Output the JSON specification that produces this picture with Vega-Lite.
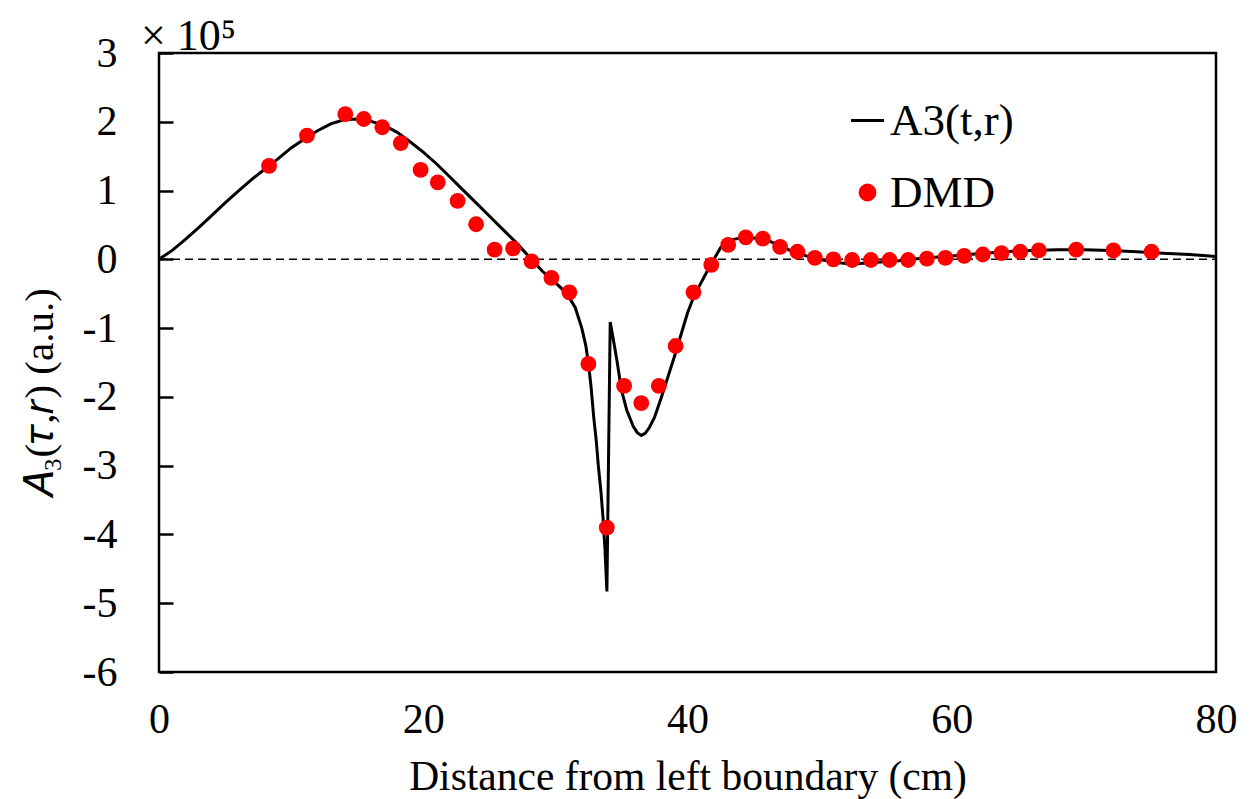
{
  "$schema": "https://vega.github.io/schema/vega-lite/v6.json",
  "width": 1057,
  "height": 619,
  "autosize": {"type": "none"},
  "padding": {"left": 159, "top": 53, "right": 39, "bottom": 127},
  "background": "white",
  "config": {
    "font": "Liberation Serif",
    "view": {"stroke": "black", "strokeWidth": 2.5}
  },
  "title": {
    "text": "× 10⁵",
    "anchor": "start",
    "frame": "group",
    "dx": -18,
    "dy": 36,
    "offset": 9,
    "fontSize": 44,
    "fontWeight": "normal",
    "font": "Liberation Serif",
    "color": "black"
  },
  "datasets": {
    "zero": [{"x": 0, "y": 0}, {"x": 80, "y": 0}],
    "curve": [
      {"x": 0, "y": 0}, {"x": 1, "y": 0.13}, {"x": 2, "y": 0.29}, {"x": 3, "y": 0.46},
      {"x": 4, "y": 0.64}, {"x": 5, "y": 0.82}, {"x": 6, "y": 0.99}, {"x": 7, "y": 1.16},
      {"x": 8, "y": 1.31}, {"x": 9, "y": 1.46}, {"x": 10, "y": 1.62}, {"x": 11, "y": 1.75},
      {"x": 12, "y": 1.87}, {"x": 13, "y": 1.97}, {"x": 14, "y": 2.03}, {"x": 15, "y": 2.04},
      {"x": 16, "y": 2.01}, {"x": 17, "y": 1.95}, {"x": 18, "y": 1.85}, {"x": 19, "y": 1.71},
      {"x": 20, "y": 1.56}, {"x": 21, "y": 1.39}, {"x": 22, "y": 1.2}, {"x": 23, "y": 1.01},
      {"x": 24, "y": 0.82}, {"x": 25, "y": 0.63}, {"x": 26, "y": 0.44}, {"x": 27, "y": 0.25},
      {"x": 28, "y": 0.04}, {"x": 29, "y": -0.17}, {"x": 30, "y": -0.34}, {"x": 30.5, "y": -0.43},
      {"x": 31, "y": -0.54}, {"x": 31.5, "y": -0.7}, {"x": 32, "y": -1.0}, {"x": 32.3, "y": -1.25},
      {"x": 32.5, "y": -1.51}, {"x": 32.7, "y": -1.85}, {"x": 32.9, "y": -2.29}, {"x": 33.1, "y": -2.65},
      {"x": 33.25, "y": -3.0}, {"x": 33.45, "y": -3.38}, {"x": 33.6, "y": -3.74}, {"x": 33.75, "y": -4.2},
      {"x": 33.9, "y": -4.83},
      {"x": 34.15, "y": -0.91}, {"x": 34.4, "y": -1.18}, {"x": 34.65, "y": -1.46}, {"x": 35, "y": -1.9},
      {"x": 35.4, "y": -2.19}, {"x": 35.9, "y": -2.43}, {"x": 36.2, "y": -2.52}, {"x": 36.5, "y": -2.56},
      {"x": 36.8, "y": -2.53}, {"x": 37.1, "y": -2.45},
      {"x": 37.5, "y": -2.3}, {"x": 38, "y": -2.02}, {"x": 38.5, "y": -1.72}, {"x": 39, "y": -1.42},
      {"x": 39.5, "y": -1.1}, {"x": 40, "y": -0.78}, {"x": 40.5, "y": -0.53}, {"x": 41, "y": -0.35},
      {"x": 41.5, "y": -0.17}, {"x": 42, "y": 0.0}, {"x": 42.5, "y": 0.17}, {"x": 43, "y": 0.25},
      {"x": 43.5, "y": 0.29}, {"x": 44, "y": 0.31}, {"x": 45, "y": 0.31}, {"x": 46, "y": 0.28},
      {"x": 47, "y": 0.2}, {"x": 48, "y": 0.11}, {"x": 49, "y": 0.05}, {"x": 50, "y": 0.0},
      {"x": 51, "y": -0.04}, {"x": 52, "y": -0.06}, {"x": 53, "y": -0.06}, {"x": 54, "y": -0.05},
      {"x": 55, "y": -0.03}, {"x": 56, "y": -0.02}, {"x": 57, "y": 0.0}, {"x": 58, "y": 0.02},
      {"x": 60, "y": 0.05}, {"x": 62, "y": 0.08}, {"x": 64, "y": 0.11}, {"x": 66, "y": 0.13},
      {"x": 68, "y": 0.14}, {"x": 70, "y": 0.14}, {"x": 72, "y": 0.13}, {"x": 74, "y": 0.11},
      {"x": 76, "y": 0.09}, {"x": 78, "y": 0.07}, {"x": 80, "y": 0.04}
    ],
    "dmd": [
      {"x": 8.33, "y": 1.36}, {"x": 11.2, "y": 1.8}, {"x": 14.1, "y": 2.11}, {"x": 15.5, "y": 2.04},
      {"x": 16.9, "y": 1.92}, {"x": 18.3, "y": 1.69}, {"x": 19.8, "y": 1.3}, {"x": 21.1, "y": 1.12},
      {"x": 22.6, "y": 0.85}, {"x": 24.0, "y": 0.51}, {"x": 25.4, "y": 0.14}, {"x": 26.8, "y": 0.16},
      {"x": 28.2, "y": -0.03}, {"x": 29.7, "y": -0.27}, {"x": 31.06, "y": -0.48}, {"x": 32.5, "y": -1.52},
      {"x": 33.89, "y": -3.9}, {"x": 35.2, "y": -1.84}, {"x": 36.5, "y": -2.09}, {"x": 37.83, "y": -1.84},
      {"x": 39.1, "y": -1.26}, {"x": 40.45, "y": -0.48}, {"x": 41.8, "y": -0.08}, {"x": 43.08, "y": 0.21},
      {"x": 44.41, "y": 0.32}, {"x": 45.7, "y": 0.3}, {"x": 47.01, "y": 0.18}, {"x": 48.32, "y": 0.11},
      {"x": 49.64, "y": 0.02}, {"x": 51.04, "y": 0.0}, {"x": 52.46, "y": -0.01}, {"x": 53.88, "y": -0.01},
      {"x": 55.29, "y": -0.01}, {"x": 56.7, "y": -0.01}, {"x": 58.12, "y": 0.01}, {"x": 59.52, "y": 0.02},
      {"x": 60.94, "y": 0.05}, {"x": 62.35, "y": 0.07}, {"x": 63.76, "y": 0.09}, {"x": 65.18, "y": 0.11},
      {"x": 66.59, "y": 0.13}, {"x": 69.42, "y": 0.14}, {"x": 72.24, "y": 0.13}, {"x": 75.12, "y": 0.11}
    ]
  },
  "encoding": {
    "x": {
      "field": "x",
      "type": "quantitative",
      "scale": {"domain": [0, 80], "nice": false, "zero": false},
      "axis": {
        "title": "Distance from left boundary (cm)",
        "values": [0, 20, 40, 60, 80],
        "ticks": false,
        "domain": false,
        "grid": false,
        "labelFont": "Liberation Serif",
        "labelFontSize": 42,
        "labelColor": "black",
        "labelPadding": 27,
        "labelFlush": false,
        "titleFont": "Liberation Serif",
        "titleFontSize": 41.5,
        "titleFontWeight": "normal",
        "titleColor": "black",
        "titlePadding": 16
      }
    },
    "y": {
      "field": "y",
      "type": "quantitative",
      "scale": {"domain": [-6, 3], "nice": false, "zero": false},
      "axis": {
        "title": "𝐴₃(𝜏,𝑟) (a.u.)",
        "values": [-6, -5, -4, -3, -2, -1, 0, 1, 2, 3],
        "labelExpr": "replace(datum.label, '−', '-')",
        "offset": -14,
        "tickSize": 14,
        "tickColor": "black",
        "tickWidth": 2.5,
        "domain": false,
        "grid": false,
        "labelFont": "Liberation Serif",
        "labelFontSize": 42,
        "labelColor": "black",
        "labelPadding": 42,
        "labelFlush": false,
        "titleFont": "Liberation Serif",
        "titleFontSize": 41,
        "titleFontWeight": "normal",
        "titleColor": "black",
        "titleBaseline": "alphabetic",
        "titleX": -121,
        "titleY": 340
      }
    }
  },
  "layer": [
    {
      "data": {"name": "zero"},
      "mark": {"type": "line", "stroke": "black", "strokeWidth": 1.5, "strokeDash": [8, 5]}
    },
    {
      "data": {"name": "curve"},
      "mark": {"type": "line", "strokeWidth": 3},
      "encoding": {
        "color": {
          "datum": "A3(t,r)",
          "type": "nominal",
          "scale": {"domain": ["A3(t,r)", "DMD"], "range": ["black", "red"]},
          "legend": {
            "title": null,
            "orient": "none",
            "legendX": 686,
            "legendY": 45,
            "padding": 0,
            "labelFont": "Liberation Serif",
            "labelFontSize": 45,
            "labelColor": "black",
            "labelOffset": 0,
            "labelLimit": 400,
            "rowPadding": 26,
            "symbolSize": 1089,
            "encode": {
              "symbols": {
                "update": {
                  "shape": {"signal": "datum.value == 'DMD' ? 'circle' : 'stroke'"},
                  "size": {"signal": "datum.value == 'DMD' ? 220 : 1089"},
                  "fill": {"signal": "datum.value == 'DMD' ? 'red' : 'transparent'"},
                  "stroke": {"signal": "datum.value == 'DMD' ? 'transparent' : 'black'"},
                  "strokeWidth": {"value": 3},
                  "opacity": {"value": 1}
                }
              }
            }
          }
        }
      }
    },
    {
      "data": {"name": "dmd"},
      "mark": {"type": "point", "filled": true, "size": 250, "opacity": 1},
      "encoding": {
        "color": {"datum": "DMD", "type": "nominal"}
      }
    }
  ]
}
